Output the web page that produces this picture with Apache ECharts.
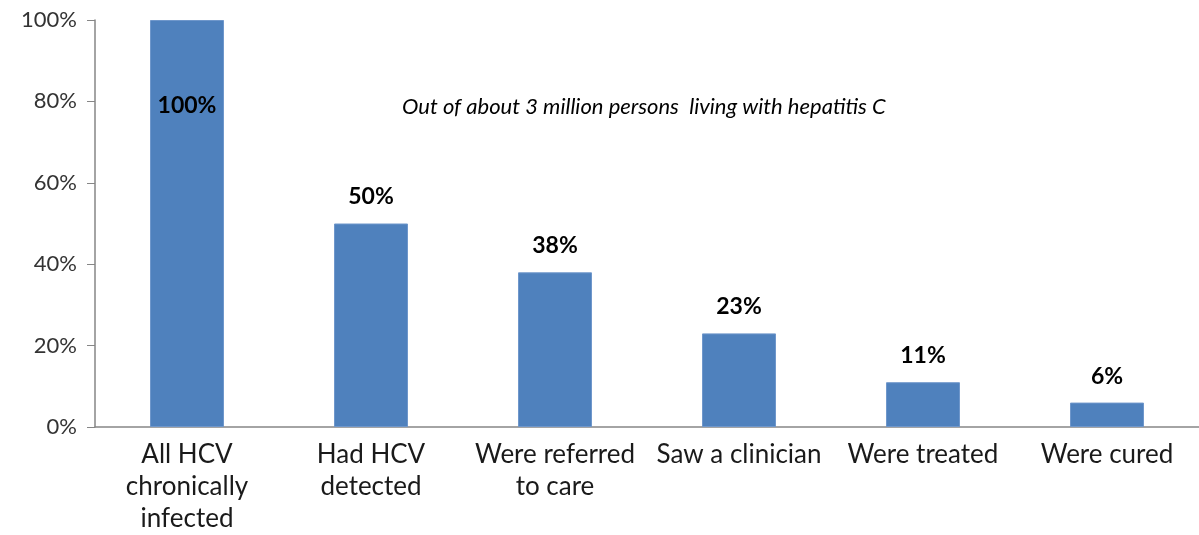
<!DOCTYPE html>
<html>
<head>
<meta charset="utf-8">
<script src="https://cdn.jsdelivr.net/npm/echarts@6/dist/echarts.min.js"></script>
<style>
  html, body { margin: 0; padding: 0; background: #fff; }
  #chart { width: 1199px; height: 535px; }
</style>
</head>
<body>
<div id="chart"></div>
<script>
const categories = [
  'All HCV\nchronically\ninfected',
  'Had HCV\ndetected',
  'Were referred\nto care',
  'Saw a clinician',
  'Were treated',
  'Were cured'
]
const values = [100, 50, 38, 23, 11, 6]
const note = 'Out of about 3 million persons  living with hepatitis C'

const font = 'Lato, "Open Sans", sans-serif'
const chart = echarts.init(document.getElementById('chart'))

const option = {
  animation: false,
  grid: { left: 95, right: -5, top: 20, bottom: 101 },
  graphic: [{
    type: 'text',
    left: 402,
    top: 96,
    style: {
      text: note,
      font: 'italic 22px ' + font,
      fill: '#000'
    }
  }],
  xAxis: {
    type: 'category',
    data: categories,
    axisLine: { lineStyle: { color: '#868686', width: 1.5 } },
    axisTick: { show: false },
    axisLabel: {
      interval: 0,
      color: '#1a1a1a',
      fontSize: 26,
      fontFamily: font,
      lineHeight: 32,
      margin: 12
    }
  },
  yAxis: {
    type: 'value',
    min: 0,
    max: 100,
    interval: 20,
    axisLine: { show: true, lineStyle: { color: '#868686', width: 1.5 } },
    axisTick: { show: true, length: 8, lineStyle: { color: '#868686' } },
    splitLine: { show: false },
    axisLabel: {
      formatter: '{value}%',
      color: '#333',
      fontSize: 22,
      fontFamily: font,
      margin: 18
    }
  },
  series: [{
    type: 'bar',
    data: values.map((v, i) => ({
      value: v,
      label: i === 0 ? { position: 'insideTop', distance: 74 } : {}
    })),
    barWidth: 74,
    itemStyle: { color: '#4F81BD', borderColor: '#6f97cb', borderWidth: 1 },
    label: {
      show: true,
      position: 'top',
      distance: 15,
      formatter: '{c}%',
      color: '#000',
      fontSize: 23,
      fontWeight: 'bold',
      fontFamily: font
    }
  }]
}

chart.setOption(option)
</script>
</body>
</html>
